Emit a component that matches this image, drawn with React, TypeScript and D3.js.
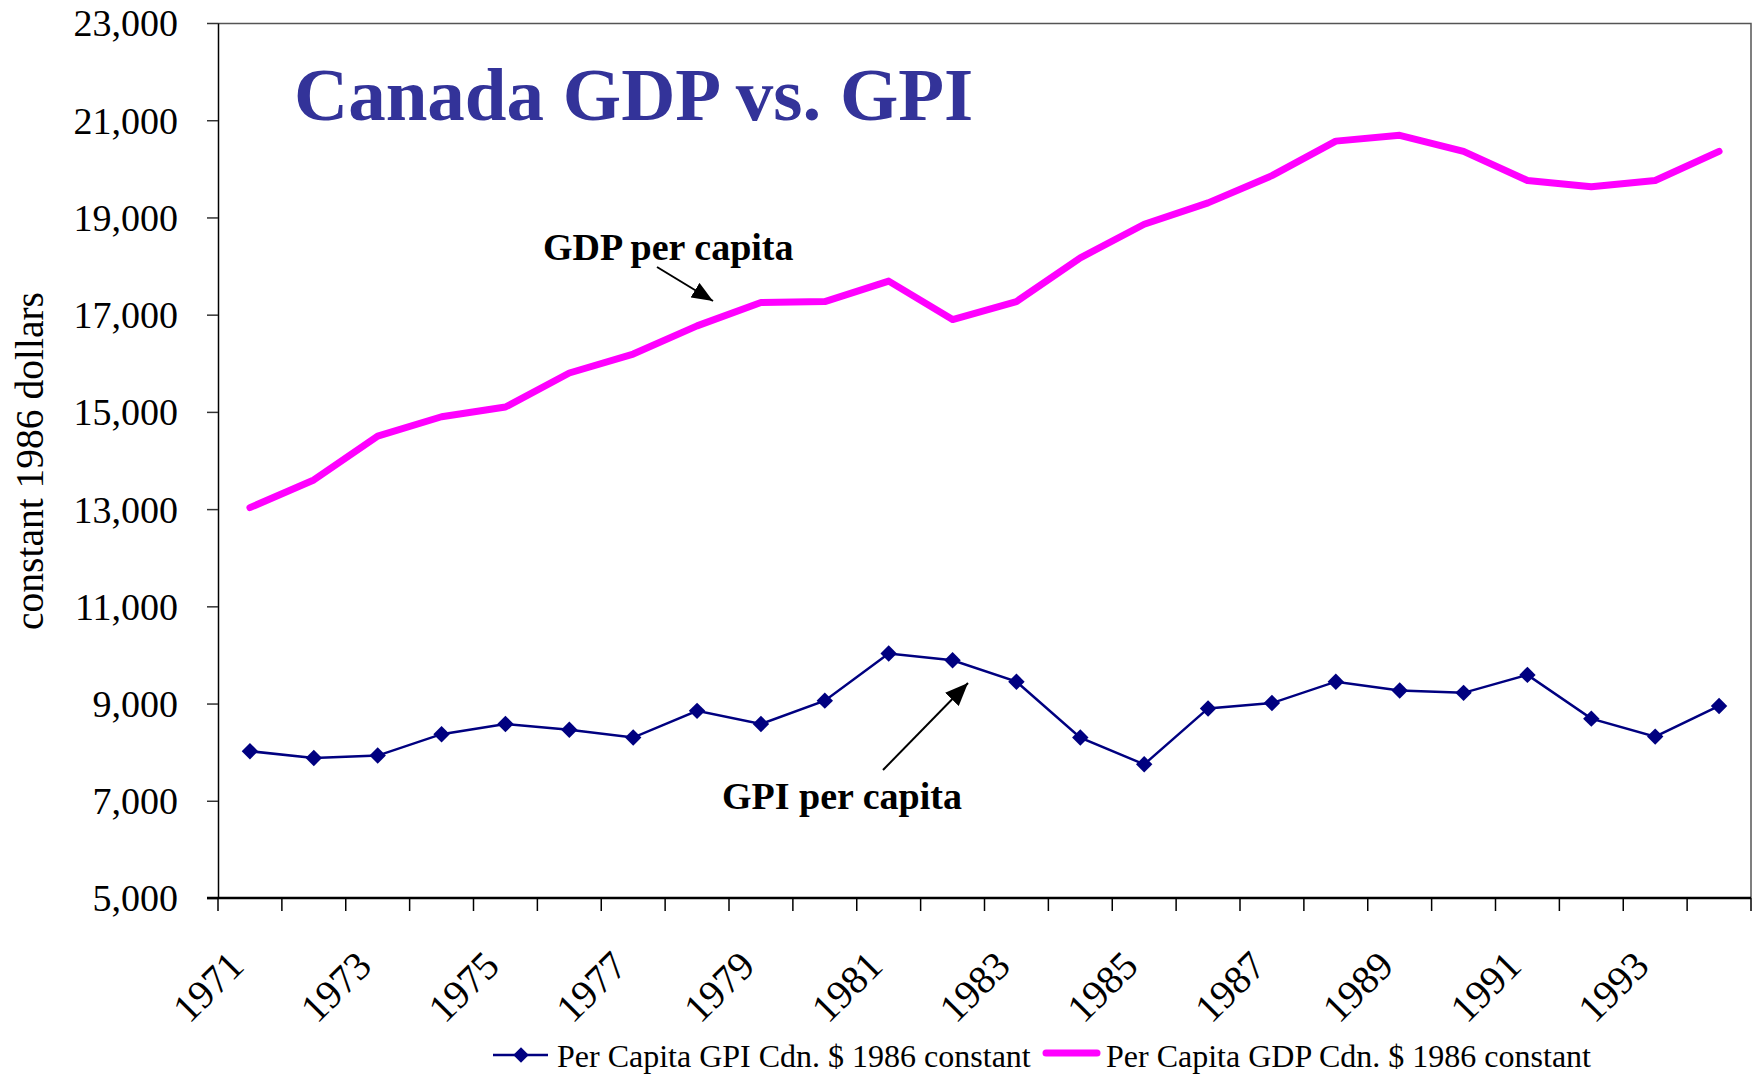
import React, { useEffect, useRef } from 'react';
import * as d3 from 'd3';

// values (constant 1986 dollars)
const years = ['1971', '1972', '1973', '1974', '1975', '1976', '1977', '1978', '1979', '1980', '1981', '1982',
  '1983', '1984', '1985', '1986', '1987', '1988', '1989', '1990', '1991', '1992', '1993', '1994'];
const gpiValues = [8020, 7880, 7930, 8370, 8580, 8460, 8300, 8850, 8580, 9060, 10030, 9890,
  9450, 8300, 7750, 8900, 9010, 9450, 9270, 9220, 9590, 8690, 8320, 8950];
const gdpValues = [13030, 13600, 14500, 14900, 15100, 15800, 16190, 16770, 17250, 17270, 17690, 16900,
  17270, 18170, 18860, 19300, 19860, 20570, 20690, 20360, 19760, 19630, 19760, 20360];
const yTicks = [5000, 7000, 9000, 11000, 13000, 15000, 17000, 19000, 21000, 23000];
const xTickLabels = ['1971', '1973', '1975', '1977', '1979', '1981', '1983', '1985', '1987', '1989', '1991', '1993'];

const FONT = '"Liberation Serif", "Times New Roman", serif';

function Chart() {
  const ref = useRef<SVGSVGElement>(null);

  useEffect(() => {
    const width = 1757;
    const height = 1077;
    const margin = { top: 23, right: 6, bottom: 179, left: 218 };
    const innerW = width - margin.left - margin.right;
    const innerH = height - margin.top - margin.bottom;

    const root = d3.select(ref.current);
    root.selectAll('*').remove();

    root.append('rect').attr('width', width).attr('height', height).attr('fill', '#fff');

    const defs = root.append('defs');
    const addHead = (id: string, len: number, wid: number) => {
      defs.append('marker')
        .attr('id', id)
        .attr('markerUnits', 'userSpaceOnUse')
        .attr('markerWidth', len)
        .attr('markerHeight', wid)
        .attr('refX', len)
        .attr('refY', wid / 2)
        .attr('orient', 'auto')
        .append('path')
        .attr('d', `M0,0 L${len},${wid / 2} L0,${wid} Z`)
        .attr('fill', '#000');
    };
    addHead('headGdp', 21, 17);
    addHead('headGpi', 23, 19);

    const svg = root.append('g').attr('transform', `translate(${margin.left},${margin.top})`);

    const xScale = d3.scaleBand().domain(years).range([0, innerW]);
    const yScale = d3.scaleLinear().domain([5000, 23000]).range([innerH, 0]);
    const cx = (d: string) => (xScale(d) as number) + xScale.bandwidth() / 2;

    // plot frame (top and right)
    svg.append('path')
      .attr('d', `M0,0.5 H${innerW} V${innerH}`)
      .attr('fill', 'none')
      .attr('stroke', '#555')
      .attr('stroke-width', 1.5);

    // y axis
    const yAxis = svg.append('g')
      .call(
        d3.axisLeft(yScale)
          .tickValues(yTicks)
          .tickSize(11)
          .tickSizeOuter(0)
          .tickPadding(29)
          .tickFormat(d3.format(','))
      );
    yAxis.select('.domain').attr('stroke', '#000').attr('stroke-width', 1.5);
    yAxis.selectAll('.tick line').attr('stroke', '#333').attr('stroke-width', 1.5);
    yAxis.selectAll('.tick text')
      .attr('font-family', FONT)
      .attr('font-size', 38)
      .attr('fill', '#000')
      .attr('dy', '0.34em');

    // x axis: ticks between categories, labels every other year
    const xAxis = svg.append('g').attr('transform', `translate(0,${innerH})`);
    const tickPos = years.map(d => xScale(d) as number).concat([innerW]);
    xAxis.selectAll('line.tick')
      .data(tickPos)
      .join('line')
      .attr('class', 'tick')
      .attr('x1', d => d).attr('x2', d => d)
      .attr('y1', 0).attr('y2', 13)
      .attr('stroke', '#000')
      .attr('stroke-width', 1.5);
    xAxis.append('line')
      .attr('x1', -11).attr('x2', innerW)
      .attr('y1', 0).attr('y2', 0)
      .attr('stroke', '#000')
      .attr('stroke-width', 2.5);
    xAxis.selectAll('text.lbl')
      .data(xTickLabels)
      .join('text')
      .attr('class', 'lbl')
      .attr('transform', d => `translate(${cx(d) - 4},70) rotate(-45)`)
      .attr('text-anchor', 'end')
      .attr('font-family', FONT)
      .attr('font-size', 40)
      .attr('fill', '#000')
      .text(d => d);

    // y axis title
    root.append('text')
      .attr('transform', `translate(43,461) rotate(-90)`)
      .attr('text-anchor', 'middle')
      .attr('font-family', FONT)
      .attr('font-size', 39.5)
      .attr('fill', '#000')
      .text('constant 1986 dollars');

    // series
    const line = d3.line<number>()
      .x((_, i) => cx(years[i]))
      .y(d => yScale(d));

    svg.append('path')
      .datum(gdpValues)
      .attr('fill', 'none')
      .attr('stroke', '#FF00FF')
      .attr('stroke-width', 7)
      .attr('stroke-linejoin', 'round')
      .attr('stroke-linecap', 'round')
      .attr('d', line);

    svg.append('path')
      .datum(gpiValues)
      .attr('fill', 'none')
      .attr('stroke', '#000080')
      .attr('stroke-width', 2.5)
      .attr('d', line);

    const diamond = d3.symbol().type(d3.symbolSquare).size(135);
    svg.selectAll('path.gpi-pt')
      .data(gpiValues)
      .join('path')
      .attr('class', 'gpi-pt')
      .attr('transform', (d, i) => `translate(${cx(years[i])},${yScale(d)}) rotate(45)`)
      .attr('d', diamond)
      .attr('fill', '#000080');

    // title
    root.append('text')
      .attr('x', 294).attr('y', 120)
      .attr('font-family', FONT)
      .attr('font-weight', 'bold')
      .attr('font-size', 75)
      .attr('fill', '#333399')
      .text('Canada GDP vs. GPI');

    // annotations
    root.append('text')
      .attr('x', 543).attr('y', 260)
      .attr('font-family', FONT)
      .attr('font-weight', 'bold')
      .attr('font-size', 38)
      .attr('fill', '#000')
      .text('GDP per capita');
    root.append('line')
      .attr('x1', 657).attr('y1', 267).attr('x2', 713).attr('y2', 301)
      .attr('stroke', '#000').attr('stroke-width', 2)
      .attr('marker-end', 'url(#headGdp)');

    root.append('text')
      .attr('x', 722).attr('y', 809)
      .attr('font-family', FONT)
      .attr('font-weight', 'bold')
      .attr('font-size', 38)
      .attr('fill', '#000')
      .text('GPI per capita');
    root.append('line')
      .attr('x1', 883).attr('y1', 770).attr('x2', 968).attr('y2', 683)
      .attr('stroke', '#000').attr('stroke-width', 2)
      .attr('marker-end', 'url(#headGpi)');

    // legend
    const legend = root.append('g').attr('transform', 'translate(0,1055)');
    legend.append('line')
      .attr('x1', 493).attr('x2', 548).attr('y1', 0).attr('y2', 0)
      .attr('stroke', '#000080').attr('stroke-width', 2.5);
    legend.append('path')
      .attr('transform', 'translate(521,0) rotate(45)')
      .attr('d', d3.symbol().type(d3.symbolSquare).size(120)())
      .attr('fill', '#000080');
    legend.append('text')
      .attr('x', 557).attr('y', 12)
      .attr('font-family', FONT)
      .attr('font-size', 32)
      .attr('fill', '#000')
      .text('Per Capita GPI Cdn. $ 1986 constant');
    legend.append('line')
      .attr('x1', 1046).attr('x2', 1097).attr('y1', -2).attr('y2', -2)
      .attr('stroke', '#FF00FF').attr('stroke-width', 7)
      .attr('stroke-linecap', 'round');
    legend.append('text')
      .attr('x', 1106).attr('y', 12)
      .attr('font-family', FONT)
      .attr('font-size', 32)
      .attr('fill', '#000')
      .text('Per Capita GDP Cdn. $ 1986 constant');
  }, []);

  return (
    <svg ref={ref} width={1757} height={1077}
      style={{ position: 'absolute', left: 0, top: 0, display: 'block' }} />
  );
}

export default function App() {
  return <Chart />;
}
